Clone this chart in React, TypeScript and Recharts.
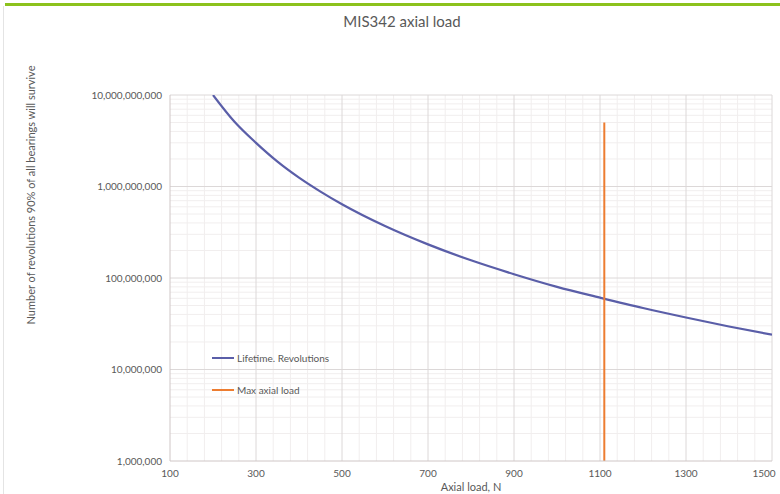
import React from 'react';
import { LineChart, Line, XAxis, YAxis, ReferenceLine } from 'recharts';

// Lifetime curve (axial load N -> revolutions)
const LOADS = [200, 250, 300, 350, 400, 450, 500, 600, 700, 800, 900, 1000, 1100, 1200, 1300, 1400, 1500];
const REVOLUTIONS = [
  1.0e10, 5.1e9, 3.0e9, 1.87e9, 1.25e9, 8.8e8, 6.4e8, 3.7e8, 2.33e8,
  1.56e8, 1.1e8, 8.0e7, 6.1e7, 4.7e7, 3.7e7, 2.95e7, 2.4e7,
];

// Max axial load marker
const MAX_LOAD = [1110, 1110];
const MAX_LOAD_Y = [5e9, 1e6];

const X_TICKS = [100, 300, 500, 700, 900, 1100, 1300, 1500];
const X_MINOR = [140, 180, 220, 260, 340, 380, 420, 460, 540, 580, 620, 660, 740, 780, 820, 860, 940, 980, 1020, 1060, 1140, 1180, 1220, 1260, 1340, 1380, 1420, 1460];
const Y_TICKS = [1e6, 1e7, 1e8, 1e9, 1e10];
const Y_MINOR_FACTORS = [2, 3, 4, 5, 6, 7, 8, 9];

const lifeData = LOADS.map((x, i) => ({ x, life: REVOLUTIONS[i] }));
const maxData = MAX_LOAD.map((x, i) => ({ x, max: MAX_LOAD_Y[i] }));
const yMinor = Y_TICKS.slice(0, -1).flatMap((d) => Y_MINOR_FACTORS.map((f) => d * f));

const FONT = 'Lato, "Open Sans", sans-serif';
const TEXT = '#595959';

const fmt = (v: number) => v.toLocaleString('en-US');

// keeps the last x label inside the page edge
function XTick(props: any) {
  const { x, y, payload } = props;
  const cx = Math.min(x, 768);
  return (
    <text x={cx} y={y + 8} textAnchor="middle" fill={TEXT} fontSize={10} fontFamily={FONT}>
      {payload.value}
    </text>
  );
}

export default function App() {
  return (
    <div style={{ position: 'fixed', left: 0, top: 0, width: 780, height: 494, background: '#fff', fontFamily: FONT }}>
      <div style={{ position: 'absolute', left: 5, top: 3, width: 775, height: 3, background: '#8cc21d' }} />
      <div style={{ position: 'absolute', left: 3, top: 6, width: 1, height: 488, background: '#e4e4e4' }} />
      <div style={{ position: 'absolute', left: 0, top: 12, width: 804, textAlign: 'center', fontSize: 15, color: TEXT }}>
        MIS342 axial load
      </div>
      <div style={{ position: 'absolute', left: 30, top: 195, width: 0, height: 0 }}>
        <div
          style={{
            position: 'absolute', transform: 'translate(-50%, -50%) rotate(-90deg)',
            whiteSpace: 'nowrap', fontSize: 11, color: TEXT,
          }}
        >
          Number of revolutions 90% of all bearings will survive
        </div>
      </div>
      <div style={{ position: 'absolute', left: 170, top: 480, width: 602, textAlign: 'center', fontSize: 11, color: TEXT }}>
        Axial load, N
      </div>

      <LineChart width={780} height={494} margin={{ top: 95, right: 8, bottom: 0, left: 0 }} style={{ position: 'absolute', left: 0, top: 0 }}>
        <XAxis
          dataKey="x"
          type="number"
          domain={[100, 1500]}
          ticks={X_TICKS}
          allowDataOverflow
          height={33}
          tickLine={false}
          stroke="#cfc6c6"
          tick={<XTick />}
        />
        <YAxis
          type="number"
          scale="log"
          domain={[1e6, 1e10]}
          ticks={Y_TICKS}
          allowDataOverflow
          width={170}
          tickLine={false}
          stroke="#cfc6c6"
          tickFormatter={fmt}
          tick={{ fill: TEXT, fontSize: 10, fontFamily: FONT }}
        />
        {X_MINOR.map((v) => (
          <ReferenceLine key={'xm' + v} x={v} stroke="#f1eeee" />
        ))}
        {yMinor.map((v) => (
          <ReferenceLine key={'ym' + v} y={v} stroke="#f1eeee" />
        ))}
        {X_TICKS.slice(1).map((v) => (
          <ReferenceLine key={'x' + v} x={v} stroke="#dcd8d8" />
        ))}
        {Y_TICKS.slice(1).map((v) => (
          <ReferenceLine key={'y' + v} y={v} stroke="#dcd8d8" />
        ))}
        <Line
          data={lifeData}
          dataKey="life"
          type="monotone"
          stroke="#5a5ea8"
          strokeWidth={2.2}
          dot={false}
          isAnimationActive={false}
        />
        <Line
          data={maxData}
          dataKey="max"
          type="linear"
          stroke="#ed7d31"
          strokeWidth={2}
          dot={false}
          isAnimationActive={false}
        />
      </LineChart>

      {/* legend inside the plot */}
      <div style={{ position: 'absolute', left: 212, top: 351, fontSize: 10, color: TEXT, lineHeight: '14px' }}>
        <div style={{ display: 'flex', alignItems: 'center' }}>
          <span style={{ width: 22, height: 2, background: '#5a5ea8', marginRight: 3 }} />
          Lifetime. Revolutions
        </div>
        <div style={{ display: 'flex', alignItems: 'center', marginTop: 18 }}>
          <span style={{ width: 22, height: 2, background: '#ed7d31', marginRight: 3 }} />
          Max axial load
        </div>
      </div>
    </div>
  );
}
